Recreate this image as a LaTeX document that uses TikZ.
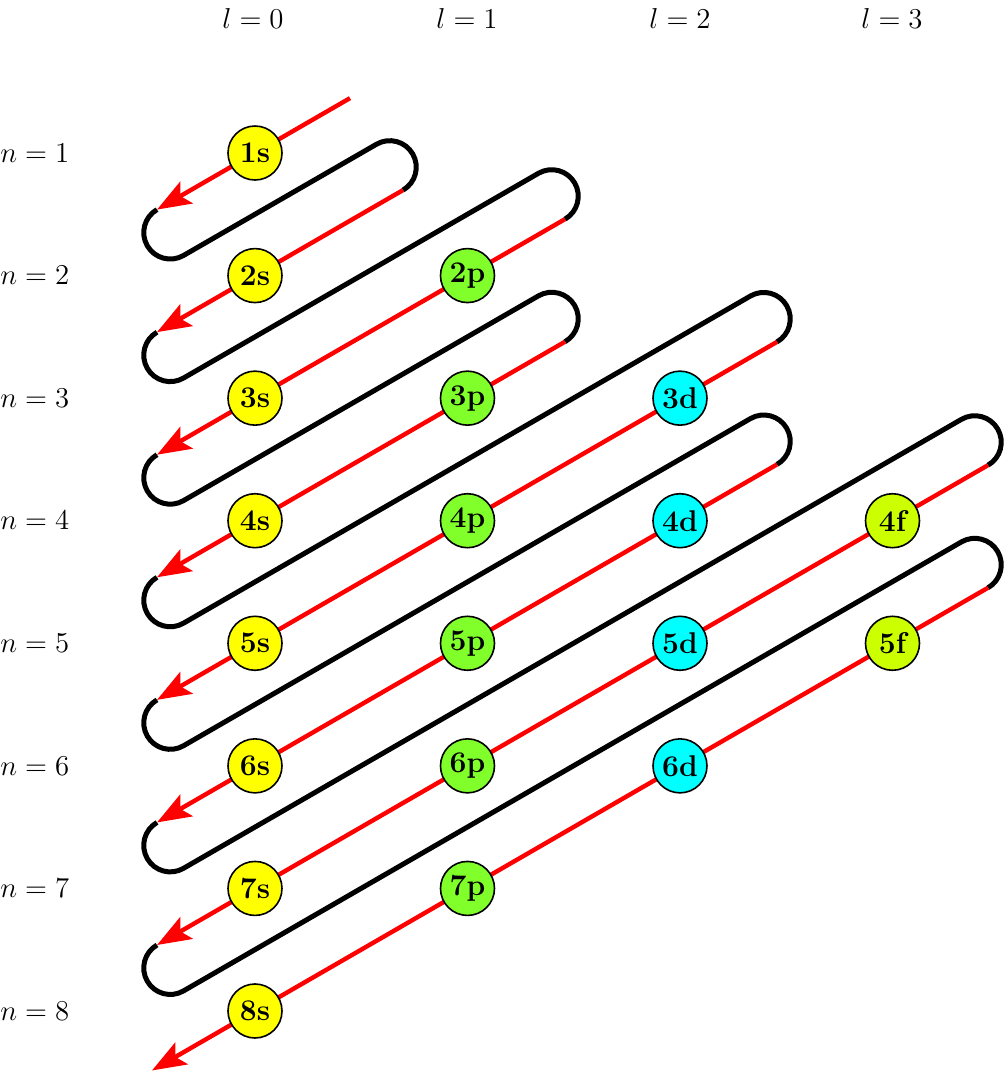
\documentclass[tikz,border=0pt]{standalone}
\usetikzlibrary{arrows.meta,calc}
\definecolor{sY}{HTML}{FFFF00}
\definecolor{pG}{HTML}{80FF2A}
\definecolor{dC}{HTML}{00FFFF}
\definecolor{fL}{HTML}{CCFF00}
\definecolor{lineRed}{HTML}{FF0000}
\begin{document}
\begin{tikzpicture}[x=0.5pt,y=0.5pt,
  orb/.style={circle,draw=black,line width=0.8pt,minimum size=27pt,inner sep=0pt,font=\fontsize{15}{16}\selectfont\bfseries},
  redl/.style={draw=lineRed,line width=2.2pt},
  blkl/.style={draw=black,line width=2.5pt},
  arr/.style={-{Stealth[length=17pt,width=12.5pt,inset=3.5pt]}},
  nlab/.style={anchor=west,inner sep=0pt,font=\fontsize{14.5}{16}\selectfont},
  llab/.style={inner sep=0pt,font=\fontsize{14.5}{16}\selectfont}]
\useasboundingbox (0,0) rectangle (1005,-1073);

% red segment start / end points
\coordinate (rs1) at (350,-98.15);  \coordinate (le1) at (157,-209.58);
\coordinate (rs2) at (403,-190.11); \coordinate (le2) at (157,-332.15);
\coordinate (rs3) at (565,-219.15); \coordinate (le3) at (157,-454.72);
\coordinate (rs4) at (565,-341.72); \coordinate (le4) at (157,-577.29);
\coordinate (rs5) at (777,-341.88); \coordinate (le5) at (157,-699.86);
\coordinate (rs6) at (777,-464.45); \coordinate (le6) at (157,-822.43);
\coordinate (rs7) at (988,-465.19); \coordinate (le7) at (157,-945.00);
\coordinate (rs8) at (988,-587.76); \coordinate (le8) at (152,-1070.46);

% black turning connectors
\foreach \k/\j in {1/2,2/3,3/4,4/5,5/6,6/7,7/8}{
  \draw[blkl] (le\k) arc[start angle=120,end angle=300,radius=26.5]
    -- ($(rs\j)+(-26.5,45.9)$) arc[start angle=120,end angle=-60,radius=26.5];
}
% red diagonals
\foreach \k in {1,...,8}{
  \draw[redl,arr] (rs\k) -- (le\k);
}

% column labels
\node[llab] (lab0) at (253,-18) {$l=0$};
\node[llab] (lab1) at (467,-18) {$l=1$};
\node[llab] (lab2) at (680,-18) {$l=2$};
\node[llab] (lab3) at (892,-18) {$l=3$};

% row labels
\node[nlab] (nl1) at (0,-153)     {$n=1$};
\node[nlab] (nl2) at (0,-275.57)  {$n=2$};
\node[nlab] (nl3) at (0,-398.14)  {$n=3$};
\node[nlab] (nl4) at (0,-520.71)  {$n=4$};
\node[nlab] (nl5) at (0,-643.28)  {$n=5$};
\node[nlab] (nl6) at (0,-765.85)  {$n=6$};
\node[nlab] (nl7) at (0,-888.42)  {$n=7$};
\node[nlab] (nl8) at (0,-1010.99) {$n=8$};

% orbitals
\node[orb,fill=sY] (o1s) at (255,-153)     {1s};
\node[orb,fill=sY] (o2s) at (255,-275.57)  {2s};
\node[orb,fill=sY] (o3s) at (255,-398.14)  {3s};
\node[orb,fill=sY] (o4s) at (255,-520.71)  {4s};
\node[orb,fill=sY] (o5s) at (255,-643.28)  {5s};
\node[orb,fill=sY] (o6s) at (255,-765.85)  {6s};
\node[orb,fill=sY] (o7s) at (255,-888.42)  {7s};
\node[orb,fill=sY] (o8s) at (255,-1010.99) {8s};

\node[orb,fill=pG] (o2p) at (467.5,-275.57) {2p};
\node[orb,fill=pG] (o3p) at (467.5,-398.14) {3p};
\node[orb,fill=pG] (o4p) at (467.5,-520.71) {4p};
\node[orb,fill=pG] (o5p) at (467.5,-643.28) {5p};
\node[orb,fill=pG] (o6p) at (467.5,-765.85) {6p};
\node[orb,fill=pG] (o7p) at (467.5,-888.42) {7p};

\node[orb,fill=dC] (o3d) at (680,-398.14) {3d};
\node[orb,fill=dC] (o4d) at (680,-520.71) {4d};
\node[orb,fill=dC] (o5d) at (680,-643.28) {5d};
\node[orb,fill=dC] (o6d) at (680,-765.85) {6d};

\node[orb,fill=fL] (o4f) at (892.5,-520.71) {4f};
\node[orb,fill=fL] (o5f) at (892.5,-643.28) {5f};
\end{tikzpicture}
\end{document}
